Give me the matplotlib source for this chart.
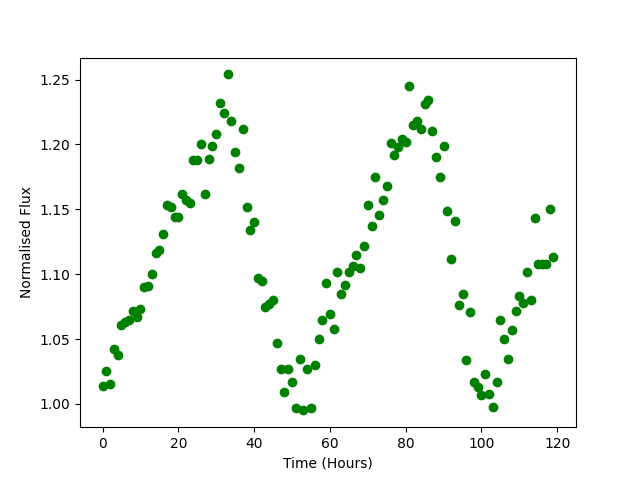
"""Light curve scatter: normalised flux against time."""

import matplotlib
matplotlib.use("Agg")
import matplotlib.pyplot as plt

# -----------------------------
# Data
# -----------------------------
timeHours = [
    0, 1, 2, 3, 4, 5, 6, 7, 8, 9,
    10, 11, 12, 13, 14, 15, 16, 17, 18, 19,
    20, 21, 22, 23, 24, 25, 26, 27, 28, 29,
    30, 31, 32, 33, 34, 35, 36, 37, 38, 39,
    40, 41, 42, 43, 44, 45, 46, 47, 48, 49,
    50, 51, 52, 53, 54, 55, 56, 57, 58, 59,
    60, 61, 62, 63, 64, 65, 66, 67, 68, 69,
    70, 71, 72, 73, 74, 75, 76, 77, 78, 79,
    80, 81, 82, 83, 84, 85, 86, 87, 88, 89,
    90, 91, 92, 93, 94, 95, 96, 97, 98, 99,
    100, 101, 102, 103, 104, 105, 106, 107, 108, 109,
    110, 111, 112, 113, 114, 115, 116, 117, 118, 119,
]

normalisedFlux = [
    1.014, 1.025, 1.015, 1.042, 1.038, 1.061, 1.063, 1.065, 1.072, 1.067,
    1.073, 1.090, 1.091, 1.100, 1.116, 1.119, 1.131, 1.153, 1.152, 1.144,
    1.144, 1.162, 1.157, 1.155, 1.188, 1.188, 1.200, 1.162, 1.189, 1.199,
    1.208, 1.232, 1.224, 1.254, 1.218, 1.194, 1.182, 1.212, 1.152, 1.134,
    1.140, 1.097, 1.095, 1.075, 1.077, 1.080, 1.047, 1.027, 1.009, 1.027,
    1.017, 0.997, 1.035, 0.995, 1.027, 0.997, 1.030, 1.050, 1.065, 1.093,
    1.069, 1.058, 1.102, 1.085, 1.092, 1.102, 1.106, 1.115, 1.105, 1.122,
    1.153, 1.137, 1.175, 1.146, 1.157, 1.168, 1.201, 1.192, 1.198, 1.204,
    1.202, 1.245, 1.215, 1.218, 1.212, 1.231, 1.234, 1.210, 1.190, 1.175,
    1.199, 1.149, 1.112, 1.141, 1.076, 1.085, 1.034, 1.071, 1.017, 1.013,
    1.007, 1.023, 1.008, 0.998, 1.017, 1.065, 1.050, 1.035, 1.057, 1.072,
    1.083, 1.078, 1.102, 1.080, 1.143, 1.108, 1.108, 1.108, 1.150, 1.113,
]


def plotLightCurve(times, flux):
    """Scatter the flux measurements against time."""
    plt.figure(figsize=(6.4, 4.8), dpi=100)
    plt.plot(times, flux, "o", color="green")
    plt.xlabel("Time (Hours)")
    plt.ylabel("Normalised Flux")


def main():
    plotLightCurve(timeHours, normalisedFlux)
    plt.savefig("out.png", dpi=100)


if __name__ == "__main__":
    main()
